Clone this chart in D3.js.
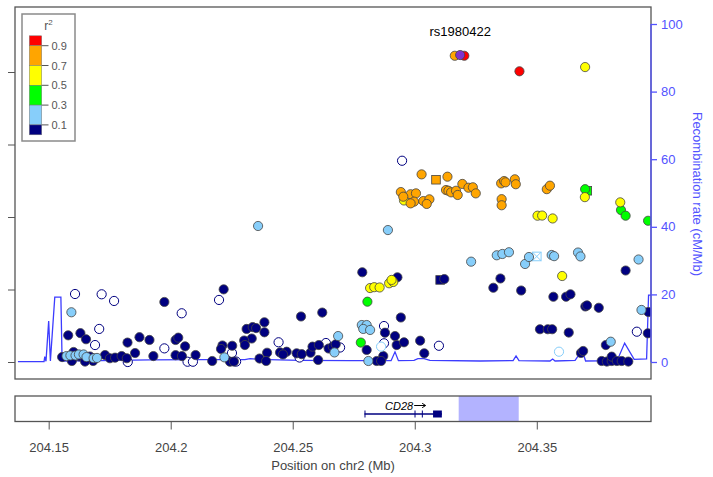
<!DOCTYPE html>
<html>
<head>
<meta charset="utf-8">
<script src="https://cdn.jsdelivr.net/npm/d3@7"></script>
<style>
	body{margin:0;background:#fff;}
	svg{display:block;font-family:"Liberation Sans",Arial,Helvetica,sans-serif;}
</style>
</head>
<body>
<svg id="chart" width="713" height="477"></svg>
<script>
xTicks = [204.15, 204.2, 204.25, 204.3, 204.35];
leftTicks = [0, 5, 10, 15, 20];
rightTicks = [0, 20, 40, 60, 80, 100];

r2Breaks = [1, 0.9, 0.7, 0.5, 0.3, 0.1, 0];
r2Labels = ["0.9", "0.7", "0.5", "0.3", "0.1"];
r2Colors = ["#ff0000", "#ffa500", "#ffff00", "#00ff00", "#87cefa", "#000080"];

// [position Mb, -log10 p]
noLdSnps = [[204.1608,4.69],[204.1717,4.67],[204.1768,4.21],[204.2045,3.36],[204.1707,2.28],[204.1690,1.17],[204.1974,0.94],[204.1824,0.0],[204.2198,4.28],[204.2069,0.02],[204.2091,0.02],[204.2251,0.62],[204.2268,0.03],[204.2442,1.36],[204.2528,0.31],[204.2636,1.31],[204.2694,1.0],[204.2874,2.48],[204.3099,1.12],[204.2874,1.29],[204.3910,2.09],[204.2948,13.88]];
navySnps = [[204.1974,4.14],[204.1580,1.84],[204.1630,1.99],[204.1653,1.57],[204.1823,1.34],[204.1872,1.71],[204.1913,1.52],[204.2020,1.52],[204.2031,1.68],[204.2059,1.08],[204.1854,0.62],[204.1929,0.41],[204.2020,0.47],[204.2046,0.41],[204.1555,0.34],[204.1595,0.07],[204.1602,0.69],[204.1628,0.38],[204.1669,0.38],[204.1682,0.07],[204.1649,0.03],[204.1731,0.48],[204.1751,0.26],[204.1772,0.30],[204.1799,0.41],[204.1820,0.26],[204.2217,5.01],[204.2534,3.14],[204.2621,3.41],[204.2102,0.48],[204.2170,0.07],[204.2212,1.14],[204.2206,0.90],[204.2252,1.12],[204.2243,0.02],[204.2259,0.03],[204.2311,2.28],[204.2336,2.41],[204.2350,2.34],[204.2384,2.74],[204.2384,2.05],[204.2332,1.62],[204.2301,1.48],[204.2304,1.17],[204.2364,0.24],[204.2395,0.64],[204.2391,0.07],[204.2448,0.66],[204.2475,0.71],[204.2460,0.52],[204.2516,0.60],[204.2537,0.54],[204.2573,0.64],[204.2581,1.06],[204.2607,1.17],[204.2604,0.14],[204.2647,0.93],[204.2664,1.06],[204.2676,1.22],[204.2785,6.19],[204.2929,5.84],[204.3121,5.72],[204.3351,5.76],[204.3322,5.12],[204.2943,3.07],[204.2878,2.02],[204.2919,1.79],[204.2926,1.17],[204.2956,1.36],[204.3022,1.47],[204.3039,0.60],[204.2803,0.83],[204.2871,0.41],[204.2844,0.07],[204.2862,0.07],[204.3864,6.31],[204.3436,4.93],[204.3568,4.50],[204.3620,4.50],[204.3638,4.67],[204.3699,3.83],[204.3706,3.90],[204.3754,3.74],[204.3957,3.45],[204.3513,2.26],[204.3545,2.26],[204.3563,2.26],[204.3631,2.03],[204.3955,1.98],[204.3681,0.62],[204.3690,0.76],[204.3783,1.17],[204.3766,0.07],[204.3787,0.03],[204.3807,0.07],[204.3807,0.37],[204.3828,0.07],[204.3848,0.07],[204.3875,0.03]];
lightBlueHollowSnps = [[204.2862,1.06],[204.3591,0.71]];
lightBlueSnps = [[204.1593,3.43],[204.1573,0.41],[204.1589,0.45],[204.1610,0.45],[204.1624,0.52],[204.1643,0.52],[204.1655,0.34],[204.1684,0.26],[204.1698,0.28],[204.2220,0.32],[204.2686,1.79],[204.2671,0.66],[204.3231,6.92],[204.2783,2.55],[204.2803,2.55],[204.2789,2.28],[204.2817,2.21],[204.2810,0.07],[204.3452,6.76],[204.3468,7.24],[204.3561,7.38],[204.3571,7.30],[204.3669,7.55],[204.3679,7.28],[204.3336,7.36],[204.3359,7.45],[204.3386,7.57],[204.3917,7.07],[204.3929,3.59],[204.3803,1.40],[204.2890,9.10],[204.2358,9.38]];
greenSnps = [[204.2806,4.16],[204.2779,1.34],[204.3698,11.92],[204.3845,10.48],[204.3864,10.09],[204.3956,9.74]];
yellowSnps = [[204.2817,5.10],[204.2834,5.16],[204.2856,5.14],[204.2895,5.43],[204.2912,5.52],[204.2905,5.66],[204.3604,5.93],[204.2956,11.14],[204.3503,10.09],[204.3522,10.10],[204.3565,9.90],[204.3697,11.37],[204.3842,11.01],[204.3698,20.34]];
orangeSnps = [[204.3028,12.94],[204.3134,12.78],[204.2943,11.72],[204.2983,11.57],[204.3005,11.63],[204.2953,11.40],[204.2997,11.06],[204.2983,10.94],[204.3035,11.10],[204.3060,11.22],[204.3049,10.90],[204.3128,11.86],[204.3138,11.81],[204.3149,11.70],[204.3169,11.81],[204.3176,11.52],[204.3195,12.28],[204.3220,12.02],[204.3238,12.05],[204.3250,11.63],[204.3354,12.32],[204.3366,12.48],[204.3372,12.39],[204.3356,11.23],[204.3356,10.81],[204.3410,12.60],[204.3414,12.26],[204.3541,11.92],[204.3554,12.16],[204.3164,21.12]];
redSnps = [[204.3203,21.12],[204.3429,20.05]];
leadSnp = [204.3186, 21.17];
leadName = "rs1980422";
// [position, -log10 p, color index, crossed]
annotatedSnps = [[204.3104,5.66,5,false],[204.3087,12.57,1,false],[204.3707,11.81,3,false],[204.3500,7.28,4,true]];

recombPos = [204.1374,204.1481,204.1484,204.1489,204.1500,204.1507,204.1525,204.1550,204.1555,204.1710,204.1915,204.2120,204.2304,204.2325,204.2358,204.2530,204.2735,204.2903,204.2919,204.2933,204.2997,204.3013,204.3038,204.3062,204.3268,204.3403,204.3415,204.3427,204.3554,204.3565,204.3575,204.3657,204.3686,204.3700,204.3829,204.3860,204.3899,204.3950,204.3958,204.4005];
recombRate = [0.09,0.09,1.57,0.2,12.1,0.3,19.2,19.2,0.3,0.4,0.6,0.7,0.7,1.0,0.8,0.5,0.4,0.4,3.0,0.4,0.5,1.0,1.0,0.5,0.3,0.4,1.8,0.4,0.3,0.9,0.3,0.5,3.5,0.3,0.4,5.6,0.8,0.9,19.8,19.8];

geneName = "CD28";
geneStart = 204.2794;
geneEnd = 204.3111;
geneExons = [[204.2794,204.2797],[204.2999,204.3002],[204.3029,204.3032],[204.3075,204.3111]];
highlightRegion = [204.3180, 204.3426];

svg = d3.select('#chart');
padLeft = 15; padRight = 651; padTop = 7; padBottom = 379;
geneTop = 396; geneBottom = 421.5;
recombBlue = '#3c3cff';
axisBlue = '#5353ff';

x = d3.scaleLinear().domain([204.1362, 204.3968]).range([padLeft, padRight]);
yLeft = d3.scaleLinear().domain([-1.172, 24.483]).range([padBottom, padTop]);
yRight = d3.scaleLinear().domain([-5.03, 105.03]).range([padBottom, padTop]);

svg.append('rect').attr('width',713).attr('height',477).attr('fill','#fff');
svg.append('defs').append('clipPath').attr('id','panelclip')
	.append('rect').attr('x',padLeft).attr('y',padTop).attr('width',padRight-padLeft).attr('height',padBottom-padTop);

plot = svg.append('g').attr('clip-path','url(#panelclip)');

recombLine = d3.line().x(function(d){return x(d[0]);}).y(function(d){return yRight(d[1]);});
plot.append('path')
	.datum(recombPos.map(function(p,i){return [p, recombRate[i]];}))
	.attr('d', recombLine).attr('fill','none').attr('stroke',recombBlue).attr('stroke-width',1.3);

sq = 8.6;
annotatedSnps.forEach(function(s){
	let cx = x(s[0]), cy = yLeft(s[1]);
	if(s[3]){
		plot.append('rect').attr('x',cx-sq/2).attr('y',cy-sq/2).attr('width',sq).attr('height',sq)
			.attr('fill','#fff').attr('stroke',r2Colors[s[2]]).attr('stroke-width',1);
		plot.append('path').attr('d','M'+(cx-sq/2)+','+(cy-sq/2)+'L'+(cx+sq/2)+','+(cy+sq/2)+'M'+(cx+sq/2)+','+(cy-sq/2)+'L'+(cx-sq/2)+','+(cy+sq/2))
			.attr('stroke',r2Colors[s[2]]).attr('stroke-width',1);
	} else {
		plot.append('rect').attr('x',cx-sq/2).attr('y',cy-sq/2).attr('width',sq).attr('height',sq)
			.attr('fill',r2Colors[s[2]]).attr('stroke','#444').attr('stroke-width',0.8);
	}
});

groups = [
	{data:noLdSnps, fill:'#fff', stroke:'#000080', sw:1},
	{data:navySnps, fill:r2Colors[5], stroke:'#444', sw:0.8},
	{data:lightBlueHollowSnps, fill:'#fff', stroke:r2Colors[4], sw:1},
	{data:lightBlueSnps, fill:r2Colors[4], stroke:'#444', sw:0.8},
	{data:greenSnps, fill:r2Colors[3], stroke:'#444', sw:0.8},
	{data:yellowSnps, fill:r2Colors[2], stroke:'#444', sw:0.8},
	{data:orangeSnps, fill:r2Colors[1], stroke:'#444', sw:0.8},
	{data:redSnps, fill:r2Colors[0], stroke:'#444', sw:0.8},
	{data:[leadSnp], fill:'#8033cc', stroke:'#444', sw:0.8}
];
groups.forEach(function(grp){
	plot.append('g').selectAll('circle').data(grp.data).enter().append('circle')
		.attr('cx',function(d){return x(d[0]);})
		.attr('cy',function(d){return yLeft(d[1]);})
		.attr('r',4.6)
		.attr('fill',grp.fill).attr('stroke',grp.stroke).attr('stroke-width',grp.sw);
});

svg.append('text').attr('x',x(leadSnp[0])).attr('y',yLeft(leadSnp[1])-19)
	.attr('text-anchor','middle').attr('font-size',13).attr('fill','#000').text(leadName);

svg.append('rect').attr('x',padLeft).attr('y',padTop).attr('width',padRight-padLeft).attr('height',padBottom-padTop)
	.attr('fill','none').attr('stroke','#555').attr('stroke-width',1.3);

leftAxis = d3.axisLeft(yLeft).tickValues(leftTicks).tickSize(7).tickFormat('');
gl = svg.append('g').attr('transform','translate('+padLeft+',0)').call(leftAxis);
gl.select('.domain').remove();
gl.selectAll('line').attr('stroke','#555');

rightAxis = d3.axisRight(yRight).tickValues(rightTicks).tickSize(6).tickPadding(4);
gr = svg.append('g').attr('transform','translate('+padRight+',0)').call(rightAxis);
gr.select('.domain').attr('d','M0,'+yRight(0)+'V'+yRight(100)).attr('stroke',axisBlue).attr('stroke-width',1.3);
gr.selectAll('line').attr('stroke',axisBlue).attr('stroke-width',1.3);
gr.selectAll('text').attr('fill',axisBlue).attr('font-size',13).attr('font-family','"Liberation Sans",Arial,sans-serif');

svg.append('text').attr('transform','translate(693,194) rotate(90)')
	.attr('text-anchor','middle').attr('font-size',13).attr('fill',axisBlue)
	.text('Recombination rate (cM/Mb)');

// legend
legY = d3.scaleLinear().domain([0,1]).range([134.8, 35.8]);
leg = svg.append('g');
leg.append('rect').attr('x',22).attr('y',14).attr('width',53).attr('height',127)
	.attr('fill','#fff').attr('stroke','#8a8a8a').attr('stroke-width',1.5);
lt = leg.append('text').attr('x',48.5).attr('y',30).attr('text-anchor','middle').attr('fill','#555').attr('font-size',12);
lt.append('tspan').text('r');
lt.append('tspan').attr('font-size',8).attr('dy',-5).text('2');
r2Colors.forEach(function(c,i){
	leg.append('rect').attr('x',29.3).attr('y',legY(r2Breaks[i]))
		.attr('width',12.4).attr('height',legY(r2Breaks[i+1])-legY(r2Breaks[i]))
		.attr('fill',c).attr('stroke','#777').attr('stroke-width',0.5);
});
r2Labels.forEach(function(l,i){
	let yy = legY(r2Breaks[i+1]);
	leg.append('line').attr('x1',41.7).attr('x2',48.5).attr('y1',yy).attr('y2',yy).attr('stroke','#555');
	leg.append('text').attr('x',51.5).attr('y',yy+4).attr('font-size',11).attr('fill','#555').text(l);
});

// gene panel
gp = svg.append('g');
gp.append('rect').attr('x',padLeft).attr('y',geneTop).attr('width',padRight-padLeft).attr('height',geneBottom-geneTop).attr('fill','#fff');
gp.append('rect').attr('x',x(highlightRegion[0])).attr('y',geneTop)
	.attr('width',x(highlightRegion[1])-x(highlightRegion[0])).attr('height',geneBottom-geneTop)
	.attr('fill','#b3b3ff');
geneY = 414;
gp.append('line').attr('x1',x(geneStart)).attr('x2',x(geneEnd)).attr('y1',geneY).attr('y2',geneY)
	.attr('stroke','#000080').attr('stroke-width',1.5);
geneExons.forEach(function(e){
	gp.append('rect').attr('x',x(e[0])).attr('y',geneY-3.5).attr('width',Math.max(1,x(e[1])-x(e[0]))).attr('height',7)
		.attr('fill','#000080');
});
geneMid = x((geneStart+geneEnd)/2);
gp.append('text').attr('x',geneMid+10).attr('y',409.5).attr('text-anchor','end')
	.attr('font-size',11).attr('font-style','italic').attr('fill','#000').text(geneName);
gp.append('path').attr('d','M'+(geneMid+11)+',405.5H'+(geneMid+22)+'M'+(geneMid+19)+',403.3L'+(geneMid+22.5)+',405.5L'+(geneMid+19)+',407.7')
	.attr('fill','none').attr('stroke','#000').attr('stroke-width',1);
gp.append('rect').attr('x',padLeft).attr('y',geneTop).attr('width',padRight-padLeft).attr('height',geneBottom-geneTop)
	.attr('fill','none').attr('stroke','#555').attr('stroke-width',1.3);

xAxis = d3.axisBottom(x).tickValues(xTicks).tickSize(8).tickFormat(function(d){return d;});
gx = svg.append('g').attr('transform','translate(0,'+geneBottom+')').call(xAxis);
gx.select('.domain').remove();
gx.selectAll('line').attr('stroke','#555');
gx.selectAll('text').attr('y',30).attr('dy',0).attr('fill','#444').attr('font-size',13)
	.attr('font-family','"Liberation Sans",Arial,sans-serif');

svg.append('text').attr('x',(padLeft+padRight)/2).attr('y',470).attr('text-anchor','middle')
	.attr('font-size',13).attr('fill','#444').text('Position on chr2 (Mb)');
</script>
</body>
</html>
